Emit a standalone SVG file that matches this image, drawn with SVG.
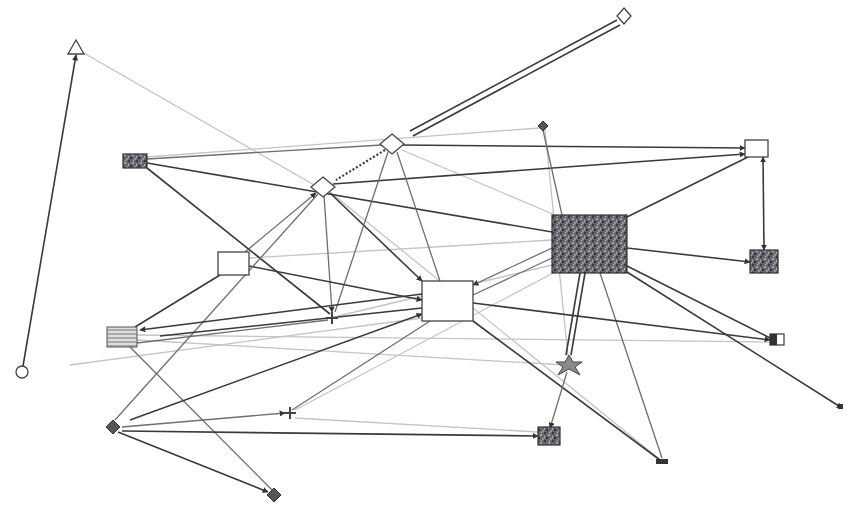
<svg xmlns="http://www.w3.org/2000/svg" width="847" height="508" viewBox="0 0 847 508">
<style>
.d{stroke:#3a3a3a;stroke-width:1.6;fill:none}
.m{stroke:#6e6e6e;stroke-width:1.3;fill:none}
.l{stroke:#c4c4c4;stroke-width:1.3;fill:none}
.h{stroke:#3a3a3a;stroke-width:2.2;fill:none;stroke-dasharray:2 2}
.no{stroke:#444;stroke-width:1.3;fill:#fff}
.dk{stroke:#333;stroke-width:1.2;fill:url(#tex)}
.dd{stroke:#333;stroke-width:1;fill:#555}
</style>
<defs>
<marker id="a" viewBox="0 0 10 10" refX="9" refY="5" markerWidth="6" markerHeight="6" orient="auto-start-reverse" markerUnits="userSpaceOnUse">
<path d="M0,0 L10,5 L0,10 z" fill="#333"/>
</marker>
<pattern id="tex" width="8" height="8" patternUnits="userSpaceOnUse">
<rect width="8" height="8" fill="#66666c"/>
<rect x="0" y="0" width="2" height="2" fill="#3a3a40"/>
<rect x="4" y="2" width="2" height="2" fill="#a4a4aa"/>
<rect x="2" y="5" width="2" height="2" fill="#303036"/>
<rect x="6" y="6" width="2" height="2" fill="#94949a"/>
<rect x="5" y="0" width="1" height="1" fill="#c4c4c8"/>
<rect x="0" y="4" width="1" height="2" fill="#b4b4b8"/>
</pattern>
<pattern id="hat" width="4" height="4" patternUnits="userSpaceOnUse">
<rect width="4" height="4" fill="#ddd"/>
<path d="M0,2 H4" stroke="#777" stroke-width="1"/>
</pattern>
</defs>
<rect width="847" height="508" fill="#fff"/>
<g id="connectors">
<line class="l" x1="82" y1="52" x2="316" y2="186"/>
<line class="l" x1="70" y1="365" x2="422" y2="318"/>
<line class="l" x1="137" y1="335" x2="770" y2="342"/>
<line class="l" x1="137" y1="340" x2="565" y2="365"/>
<line class="l" x1="295" y1="410" x2="555" y2="272"/>
<line class="l" x1="249" y1="258" x2="552" y2="240"/>
<line class="l" x1="338" y1="316" x2="552" y2="265"/>
<line class="l" x1="295" y1="418" x2="538" y2="432"/>
<line class="l" x1="402" y1="150" x2="555" y2="215"/>
<line class="l" x1="545" y1="130" x2="568" y2="356"/>
<line class="l" x1="330" y1="192" x2="658" y2="458"/>
<line class="l" x1="147" y1="157" x2="540" y2="128"/>
<line class="d" x1="23" y1="366" x2="76" y2="55" marker-end="url(#a)"/>
<line class="d" x1="410" y1="131" x2="617" y2="20"/>
<line class="d" x1="413" y1="136" x2="620" y2="25"/>
<line class="d" x1="147" y1="163" x2="552" y2="232"/>
<line class="m" x1="147" y1="159" x2="382" y2="145"/>
<line class="d" x1="402" y1="145" x2="745" y2="148" marker-end="url(#a)"/>
<line class="d" x1="333" y1="184" x2="745" y2="154" marker-end="url(#a)"/>
<line class="d" x1="748" y1="157" x2="627" y2="217"/>
<line class="d" x1="763" y1="157" x2="764" y2="250" marker-start="url(#a)" marker-end="url(#a)"/>
<line class="d" x1="627" y1="248" x2="750" y2="262" marker-end="url(#a)"/>
<line class="d" x1="627" y1="266" x2="770" y2="338"/>
<line class="d" x1="627" y1="272" x2="842" y2="408" marker-end="url(#a)"/>
<line class="d" x1="580" y1="273" x2="566" y2="355"/>
<line class="d" x1="585" y1="273" x2="571" y2="355"/>
<line class="m" x1="600" y1="273" x2="662" y2="458"/>
<line class="m" x1="552" y1="248" x2="473" y2="285" marker-end="url(#a)"/>
<line class="m" x1="552" y1="258" x2="473" y2="295"/>
<line class="d" x1="330" y1="193" x2="422" y2="281" marker-end="url(#a)"/>
<line class="m" x1="324" y1="195" x2="332" y2="312" marker-end="url(#a)"/>
<line class="m" x1="397" y1="152" x2="440" y2="281"/>
<line class="m" x1="388" y1="152" x2="335" y2="312"/>
<line class="h" x1="385" y1="150" x2="336" y2="180"/>
<line class="m" x1="245" y1="252" x2="316" y2="193" marker-end="url(#a)"/>
<line class="d" x1="249" y1="266" x2="422" y2="300" marker-end="url(#a)"/>
<line class="d" x1="220" y1="275" x2="135" y2="327"/>
<line class="d" x1="147" y1="168" x2="330" y2="314"/>
<line class="m" x1="115" y1="420" x2="318" y2="194"/>
<line class="m" x1="130" y1="347" x2="272" y2="490"/>
<line class="d" x1="422" y1="294" x2="140" y2="330" marker-end="url(#a)"/>
<line class="d" x1="422" y1="308" x2="160" y2="336"/>
<line class="m" x1="137" y1="343" x2="328" y2="320"/>
<line class="d" x1="130" y1="420" x2="422" y2="314" marker-end="url(#a)"/>
<line class="m" x1="122" y1="427" x2="285" y2="413" marker-end="url(#a)"/>
<line class="d" x1="122" y1="431" x2="538" y2="436" marker-end="url(#a)"/>
<line class="d" x1="118" y1="432" x2="268" y2="492" marker-end="url(#a)"/>
<line class="m" x1="292" y1="410" x2="430" y2="321"/>
<line class="d" x1="473" y1="321" x2="660" y2="460"/>
<line class="d" x1="473" y1="303" x2="770" y2="340" marker-end="url(#a)"/>
<line class="m" x1="567" y1="372" x2="550" y2="428" marker-end="url(#a)"/>
<line class="m" x1="543" y1="130" x2="562" y2="215"/>
</g>
<g id="n1"><polygon class="no" points="76,40 84,54 68,54"/></g>
<g id="n2"><circle class="no" cx="22" cy="372" r="6"/></g>
<g id="n3"><rect class="dk" x="123" y="154" width="24" height="14"/></g>
<g id="n4"><polygon class="no" points="323,177 335,187 323,197 311,187"/></g>
<g id="n5"><polygon class="no" points="392,134 404,144 392,154 380,144"/></g>
<g id="n6"><polygon class="no" points="624,8 631,16 624,24 617,16"/></g>
<g id="n7"><polygon class="dd" points="543,121 548,126 543,131 538,126"/></g>
<g id="n8"><rect class="no" x="745" y="140" width="23" height="17"/></g>
<g id="n9"><rect class="no" x="218" y="252" width="31" height="23"/></g>
<g id="n10"><rect class="dk" x="552" y="215" width="75" height="58"/></g>
<g id="n11"><rect class="dk" x="750" y="250" width="28" height="23"/></g>
<g id="n12"><rect x="107" y="327" width="30" height="20" fill="url(#hat)" stroke="#555" stroke-width="1"/></g>
<g id="n13"><rect class="no" x="422" y="281" width="51" height="40"/></g>
<g id="n14"><path d="M326,318 L338,318 M332,312 L332,324" stroke="#444" stroke-width="2"/></g>
<g id="n15"><rect class="no" x="770" y="334" width="14" height="11"/><rect x="770" y="334" width="7" height="11" fill="#333"/></g>
<g id="n16"><polygon points="569,355 573,362 582,362 575,367 580,375 569,369 558,375 563,367 556,362 565,362" fill="#8a8a8a" stroke="#444" stroke-width="1"/></g>
<g id="n17"><rect x="838" y="404" width="5" height="5" fill="#333"/></g>
<g id="n18"><polygon class="dd" points="113,420 120,427 113,434 106,427"/></g>
<g id="n19"><path d="M283,413 L296,413 M290,407 L290,419" stroke="#444" stroke-width="2"/></g>
<g id="n20"><rect class="dk" x="538" y="427" width="22" height="18"/></g>
<g id="n21"><rect x="656" y="459" width="12" height="5" fill="#333"/></g>
<g id="n22"><polygon class="dd" points="274,488 281,495 274,502 267,495"/></g>
</svg>
